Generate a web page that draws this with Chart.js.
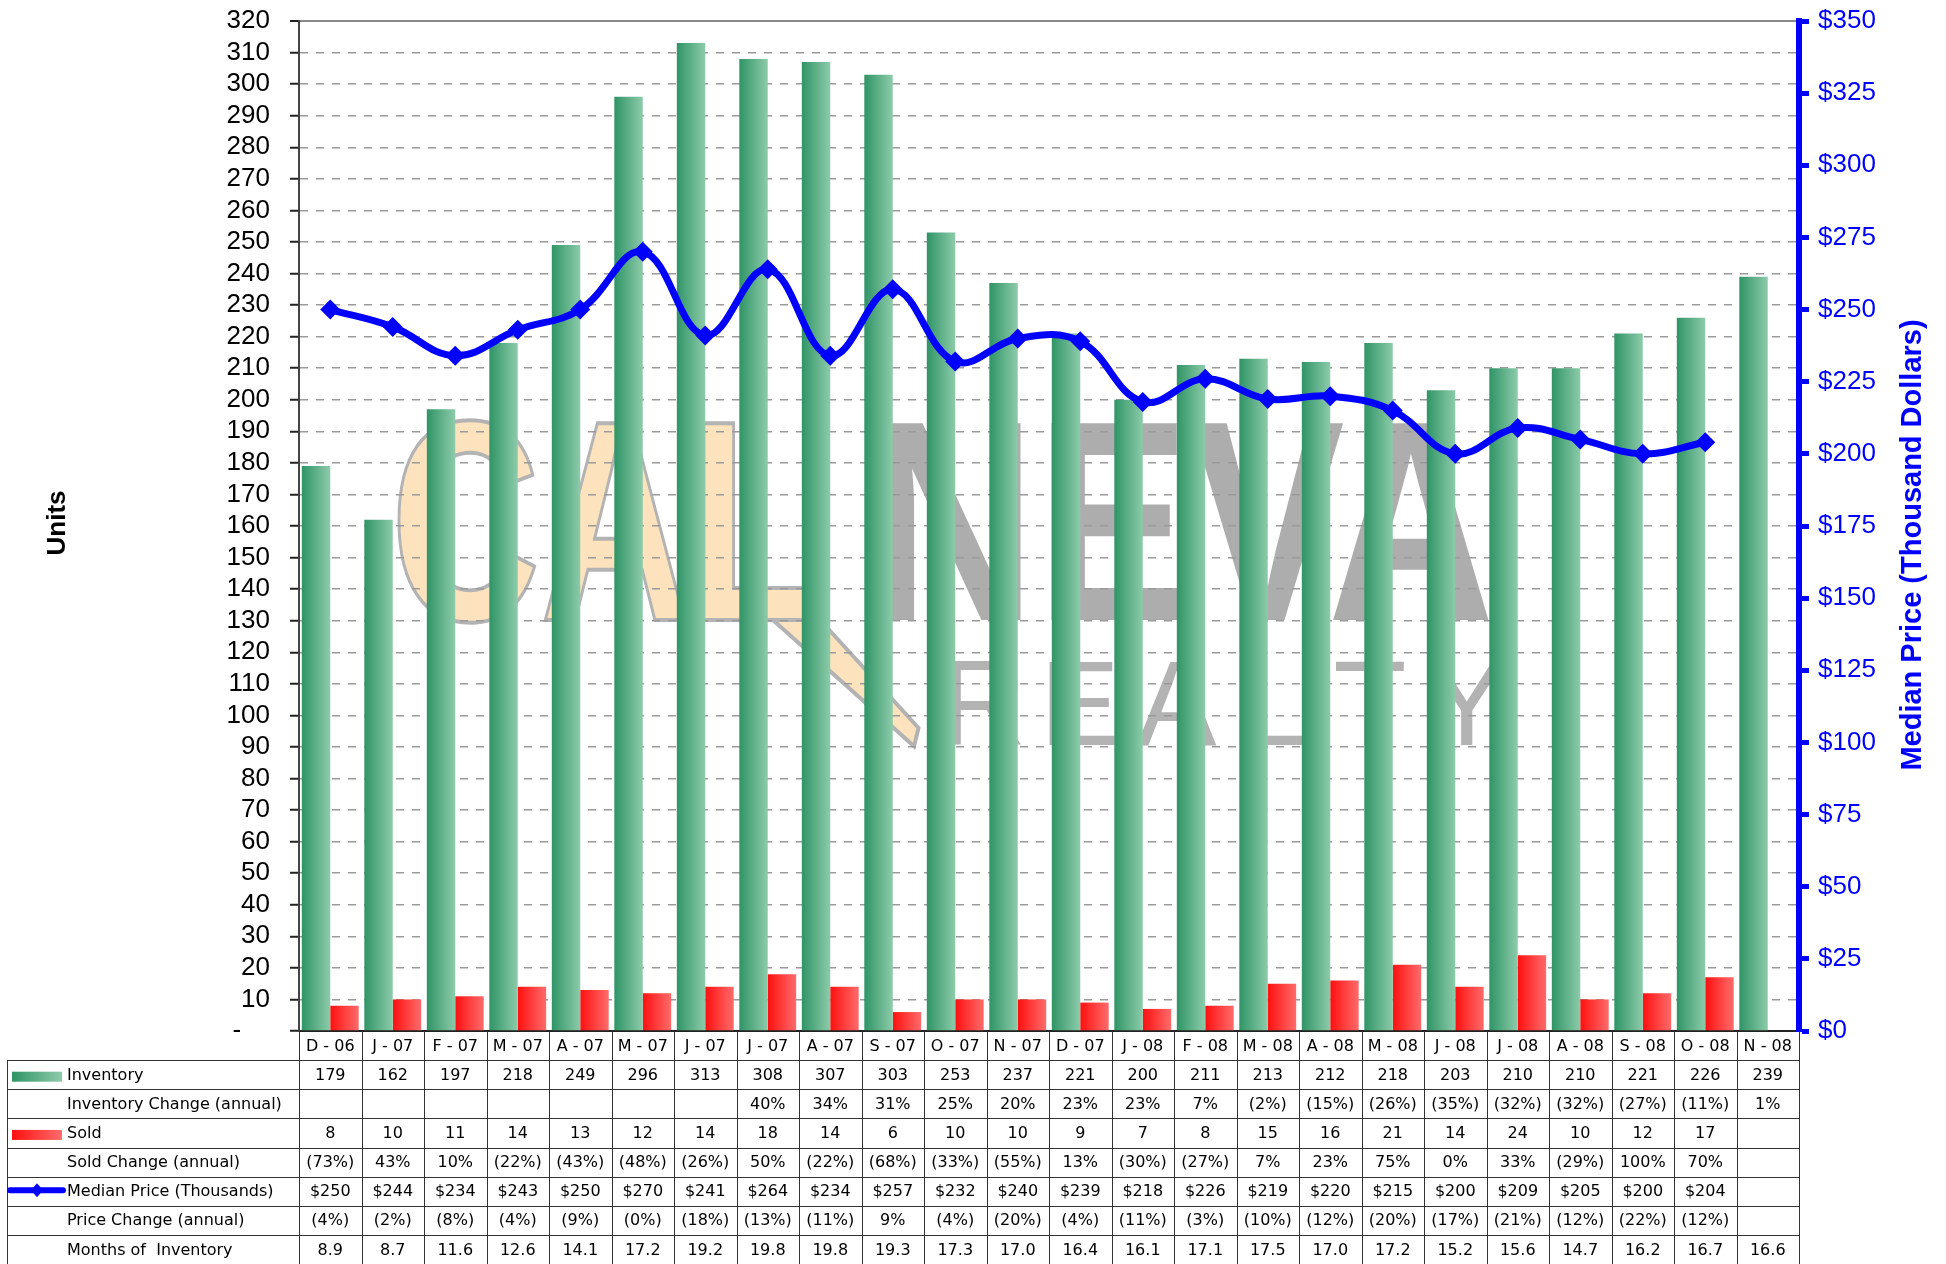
<!DOCTYPE html>
<html>
<head>
<meta charset="utf-8">
<title>Inventory, Sold and Median Price</title>
<script src="https://cdn.jsdelivr.net/npm/chart.js@4.4.1/dist/chart.umd.min.js"></script>
<style>
  html, body { margin: 0; padding: 0; background: #fff; }
  #chartBox { width: 1946px; height: 1264px; }
</style>
</head>
<body>
<div id="chartBox"><canvas id="invChart" width="1946" height="1264"></canvas></div>
<script>
// Data
const months = ['D - 06', 'J - 07', 'F - 07', 'M - 07', 'A - 07', 'M - 07', 'J - 07', 'J - 07', 'A - 07', 'S - 07', 'O - 07', 'N - 07',
    'D - 07', 'J - 08', 'F - 08', 'M - 08', 'A - 08', 'M - 08', 'J - 08', 'J - 08', 'A - 08', 'S - 08', 'O - 08', 'N - 08'];
const inventory = [179, 162, 197, 218, 249, 296, 313, 308, 307, 303, 253, 237, 221, 200, 211, 213, 212, 218, 203, 210, 210, 221, 226, 239];
const inventoryChange = ['', '', '', '', '', '', '', '40%', '34%', '31%', '25%', '20%', '23%', '23%', '7%', '(2%)', '(15%)', '(26%)',
    '(35%)', '(32%)', '(32%)', '(27%)', '(11%)', '1%'];
const sold = [8, 10, 11, 14, 13, 12, 14, 18, 14, 6, 10, 10, 9, 7, 8, 15, 16, 21, 14, 24, 10, 12, 17, null];
const soldChange = ['(73%)', '43%', '10%', '(22%)', '(43%)', '(48%)', '(26%)', '50%', '(22%)', '(68%)', '(33%)', '(55%)', '13%',
    '(30%)', '(27%)', '7%', '23%', '75%', '0%', '33%', '(29%)', '100%', '70%', ''];
const medianPrice = [250, 244, 234, 243, 250, 270, 241, 264, 234, 257, 232, 240, 239, 218, 226, 219, 220, 215, 200, 209, 205, 200, 204, null];
const priceChange = ['(4%)', '(2%)', '(8%)', '(4%)', '(9%)', '(0%)', '(18%)', '(13%)', '(11%)', '9%', '(4%)', '(20%)', '(4%)',
    '(11%)', '(3%)', '(10%)', '(12%)', '(20%)', '(17%)', '(21%)', '(12%)', '(22%)', '(12%)', ''];
const monthsOfInventory = ['8.9', '8.7', '11.6', '12.6', '14.1', '17.2', '19.2', '19.8', '19.8', '19.3', '17.3', '17.0', '16.4',
    '16.1', '17.1', '17.5', '17.0', '17.2', '15.2', '15.6', '14.7', '16.2', '16.7', '16.6'];

const CAT_PCT = 0.91;
const TABLE_ROWS = 8;
const TABLE_HEIGHT = 233;
const GREEN = ['#2f9466', '#8dcbaa'];
const RED = ['#ff1010', '#ff6b6b'];
const BLUE = '#0000ff';

Chart.defaults.font.family = '"Liberation Sans", Arial, sans-serif';
Chart.defaults.color = '#000';

// horizontal gradient across one bar of the group
function barFill(ctx, colors, side) {
    const chart = ctx.chart;
    const xs = chart.scales.x;
    if (ctx.type !== 'data' || !xs) return colors[0];
    const c = xs.getPixelForValue(ctx.dataIndex);
    const w = xs.width / months.length * CAT_PCT / 2;
    if (!isFinite(c) || !isFinite(w) || w <= 0) return colors[0];
    const x0 = side < 0 ? c - w : c;
    const g = chart.ctx.createLinearGradient(x0, 0, x0 + w, 0);
    g.addColorStop(0, colors[0]);
    g.addColorStop(1, colors[1]);
    return g;
}

function fitText(ctx, text, x0, x1, baseline, font, fill, stroke) {
    ctx.font = font;
    const w = ctx.measureText(text).width;
    ctx.save();
    ctx.translate(x0, baseline);
    ctx.scale((x1 - x0) / w, 1);
    if (fill) { ctx.fillStyle = fill; ctx.fillText(text, 0, 0); }
    if (stroke) { ctx.strokeStyle = stroke; ctx.lineWidth = 4; ctx.strokeText(text, 0, 0); }
    ctx.restore();
}

// faint company logo behind the plot
function drawWatermark(chart) {
    const ctx = chart.ctx;
    const a = chart.chartArea;
    const px = f => a.left + f * (a.right - a.left);
    const py = f => a.top + f * (a.bottom - a.top);
    ctx.save();
    ctx.textAlign = 'left';
    ctx.textBaseline = 'alphabetic';
    const base = py(0.593);
    // California tail under the L
    ctx.beginPath();
    ctx.moveTo(px(0.313), base - 4);
    ctx.lineTo(px(0.345), base - 4);
    ctx.lineTo(px(0.413), py(0.70));
    ctx.lineTo(px(0.410), py(0.718));
    ctx.closePath();
    ctx.fillStyle = '#fde3bd';
    ctx.fill();
    ctx.strokeStyle = '#b3b3b3';
    ctx.lineWidth = 4;
    ctx.stroke();
    fitText(ctx, 'CAL', px(0.061), px(0.345), base, 'bold 286px "Liberation Sans"', '#fde3bd', '#b3b3b3');
    fitText(ctx, 'NEVA', px(0.38), px(0.797), base, 'bold 286px "Liberation Sans"', '#adadad', null);
    ctx.font = '120px "Liberation Sans"';
    ctx.fillStyle = '#b3b3b3';
    ctx.textAlign = 'center';
    'REALTY'.split('').forEach((ch, i) => {
        ctx.fillText(ch, px(0.456 + i * 0.0645), py(0.717));
    });
    ctx.restore();
}

function drawTitles(chart) {
    const ctx = chart.ctx;
    const a = chart.chartArea;
    const midY = (a.top + a.bottom) / 2;
    ctx.save();
    ctx.textAlign = 'center';
    ctx.textBaseline = 'middle';
    ctx.font = 'bold 26px "Liberation Sans"';
    ctx.fillStyle = '#000';
    ctx.translate(58, midY - 3);
    ctx.rotate(-Math.PI / 2);
    ctx.fillText('Units', 0, 0);
    ctx.restore();

    ctx.save();
    ctx.textAlign = 'center';
    ctx.textBaseline = 'middle';
    ctx.font = 'bold 29px "Liberation Sans"';
    ctx.fillStyle = BLUE;
    ctx.translate(1913, midY + 19);
    ctx.rotate(-Math.PI / 2);
    ctx.fillText('Median Price (Thousand Dollars)', 0, 0);
    ctx.restore();
}

function drawSwatch(ctx, kind, cy) {
    if (kind === 'price') {
        ctx.strokeStyle = BLUE;
        ctx.lineWidth = 6;
        ctx.lineCap = 'round';
        ctx.beginPath();
        ctx.moveTo(10, cy - 2);
        ctx.lineTo(63, cy - 2);
        ctx.stroke();
        ctx.fillStyle = BLUE;
        ctx.beginPath();
        ctx.moveTo(37, cy - 9);
        ctx.lineTo(43, cy - 2);
        ctx.lineTo(37, cy + 5);
        ctx.lineTo(31, cy - 2);
        ctx.closePath();
        ctx.fill();
        return;
    }
    const cols = kind === 'inv' ? GREEN : RED;
    const g = ctx.createLinearGradient(12, 0, 62, 0);
    g.addColorStop(0, cols[0]);
    g.addColorStop(1, cols[1]);
    ctx.fillStyle = g;
    ctx.fillRect(12, cy - 4, 50, 10);
}

function drawTable(chart) {
    const ctx = chart.ctx;
    const xs = chart.scales.x;
    const a = chart.chartArea;
    const top = a.bottom;
    const bottom = chart.height;
    const rowH = (bottom - top) / TABLE_ROWS;
    const half = (xs.getPixelForValue(1) - xs.getPixelForValue(0)) / 2;
    const tableLeft = 7;
    const rows = [
        { label: '', values: months },
        { label: 'Inventory', swatch: 'inv', values: inventory },
        { label: 'Inventory Change (annual)', values: inventoryChange },
        { label: 'Sold', swatch: 'sold', values: sold },
        { label: 'Sold Change (annual)', values: soldChange },
        { label: 'Median Price (Thousands)', swatch: 'price', values: medianPrice.map(v => v == null ? '' : '$' + v) },
        { label: 'Price Change (annual)', values: priceChange },
        { label: 'Months of  Inventory', values: monthsOfInventory }
    ];

    ctx.save();
    // grid of the table
    ctx.strokeStyle = '#333';
    ctx.lineWidth = 1;
    ctx.beginPath();
    for (let r = 1; r < TABLE_ROWS; r++) {
        const y = Math.round(top + r * rowH) + 0.5;
        ctx.moveTo(tableLeft, y);
        ctx.lineTo(a.right, y);
    }
    for (let i = 0; i <= months.length; i++) {
        const x = Math.round(xs.getPixelForValue(0) - half + i * 2 * half) + 0.5;
        ctx.moveTo(x, top);
        ctx.lineTo(x, bottom);
    }
    ctx.moveTo(tableLeft + 0.5, Math.round(top + rowH));
    ctx.lineTo(tableLeft + 0.5, bottom);
    ctx.stroke();

    ctx.font = '16px "DejaVu Sans"';
    ctx.fillStyle = '#000';
    ctx.textBaseline = 'middle';
    rows.forEach((row, r) => {
        const cy = top + r * rowH + rowH / 2 + 1;
        if (row.swatch) drawSwatch(ctx, row.swatch, cy);
        ctx.fillStyle = '#000';
        ctx.textAlign = 'left';
        if (row.label) ctx.fillText(row.label, 67, cy);
        ctx.textAlign = 'center';
        row.values.forEach((v, i) => {
            if (v === null || v === '') return;
            ctx.fillText(String(v), xs.getPixelForValue(i), cy);
        });
    });
    ctx.restore();
}

const reportPlugin = {
    id: 'reportExtras',
    beforeDraw(chart) { drawWatermark(chart); },
    afterDraw(chart) {
        drawTitles(chart);
        drawTable(chart);
    }
};

// keep the plot box fixed: no extra room for tick labels at the ends
function noEndPadding(s) {
    s.paddingTop = 0;
    s.paddingBottom = 0;
}

const invCtx = document.getElementById('invChart').getContext('2d');
const invChart = new Chart(invCtx, {
    type: 'bar',
    data: {
        labels: months,
        datasets: [
            {
                label: 'Median Price (Thousands)',
                type: 'line',
                data: medianPrice,
                yAxisID: 'yPrice',
                borderColor: BLUE,
                backgroundColor: BLUE,
                borderWidth: 7,
                tension: 0.4,
                pointStyle: 'rectRot',
                pointRadius: 10,
                pointBorderWidth: 0,
                order: 0
            },
            {
                label: 'Inventory',
                data: inventory,
                yAxisID: 'yUnits',
                backgroundColor: c => barFill(c, GREEN, -1),
                categoryPercentage: CAT_PCT,
                barPercentage: 1,
                order: 1
            },
            {
                label: 'Sold',
                data: sold,
                yAxisID: 'yUnits',
                backgroundColor: c => barFill(c, RED, 1),
                categoryPercentage: CAT_PCT,
                barPercentage: 1,
                order: 1
            }
        ]
    },
    options: {
        responsive: false,
        animation: false,
        layout: { autoPadding: false, padding: { top: 21, left: 0, right: 0, bottom: 0 } },
        plugins: { legend: { display: false }, tooltip: { enabled: false } },
        scales: {
            x: {
                offset: true,
                grid: { display: false, drawTicks: false },
                border: { display: true, color: '#222', width: 2 },
                ticks: { display: false },
                afterFit: s => { s.height = TABLE_HEIGHT; }
            },
            yUnits: {
                position: 'left',
                min: 0,
                max: 320,
                ticks: {
                    stepSize: 10,
                    autoSkip: false,
                    padding: 20,
                    color: '#000',
                    font: { size: 26 },
                    callback: v => v === 0 ? '-    ' : v
                },
                grid: {
                    color: c => (c.tick && c.tick.value === 320) ? '#888' : '#9a9a9a',
                    lineWidth: c => (c.tick && c.tick.value === 320) ? 2 : 1.5,
                    tickColor: '#222',
                    tickLength: 9,
                    tickWidth: 2
                },
                border: {
                    color: '#444',
                    width: 2,
                    dash: c => (c.tick && c.tick.value === 320) ? [] : [8, 8]
                },
                afterFit: s => { s.width = 299; noEndPadding(s); }
            },
            yPrice: {
                position: 'right',
                min: 0,
                max: 350,
                ticks: {
                    stepSize: 25,
                    padding: 9,
                    color: BLUE,
                    font: { size: 26 },
                    callback: v => '$' + v
                },
                grid: { drawOnChartArea: false, tickColor: BLUE, tickLength: 10, tickWidth: 5 },
                border: { color: BLUE, width: 6 },
                afterFit: s => { s.width = 147; noEndPadding(s); }
            }
        }
    },
    plugins: [reportPlugin]
});
</script>
</body>
</html>
